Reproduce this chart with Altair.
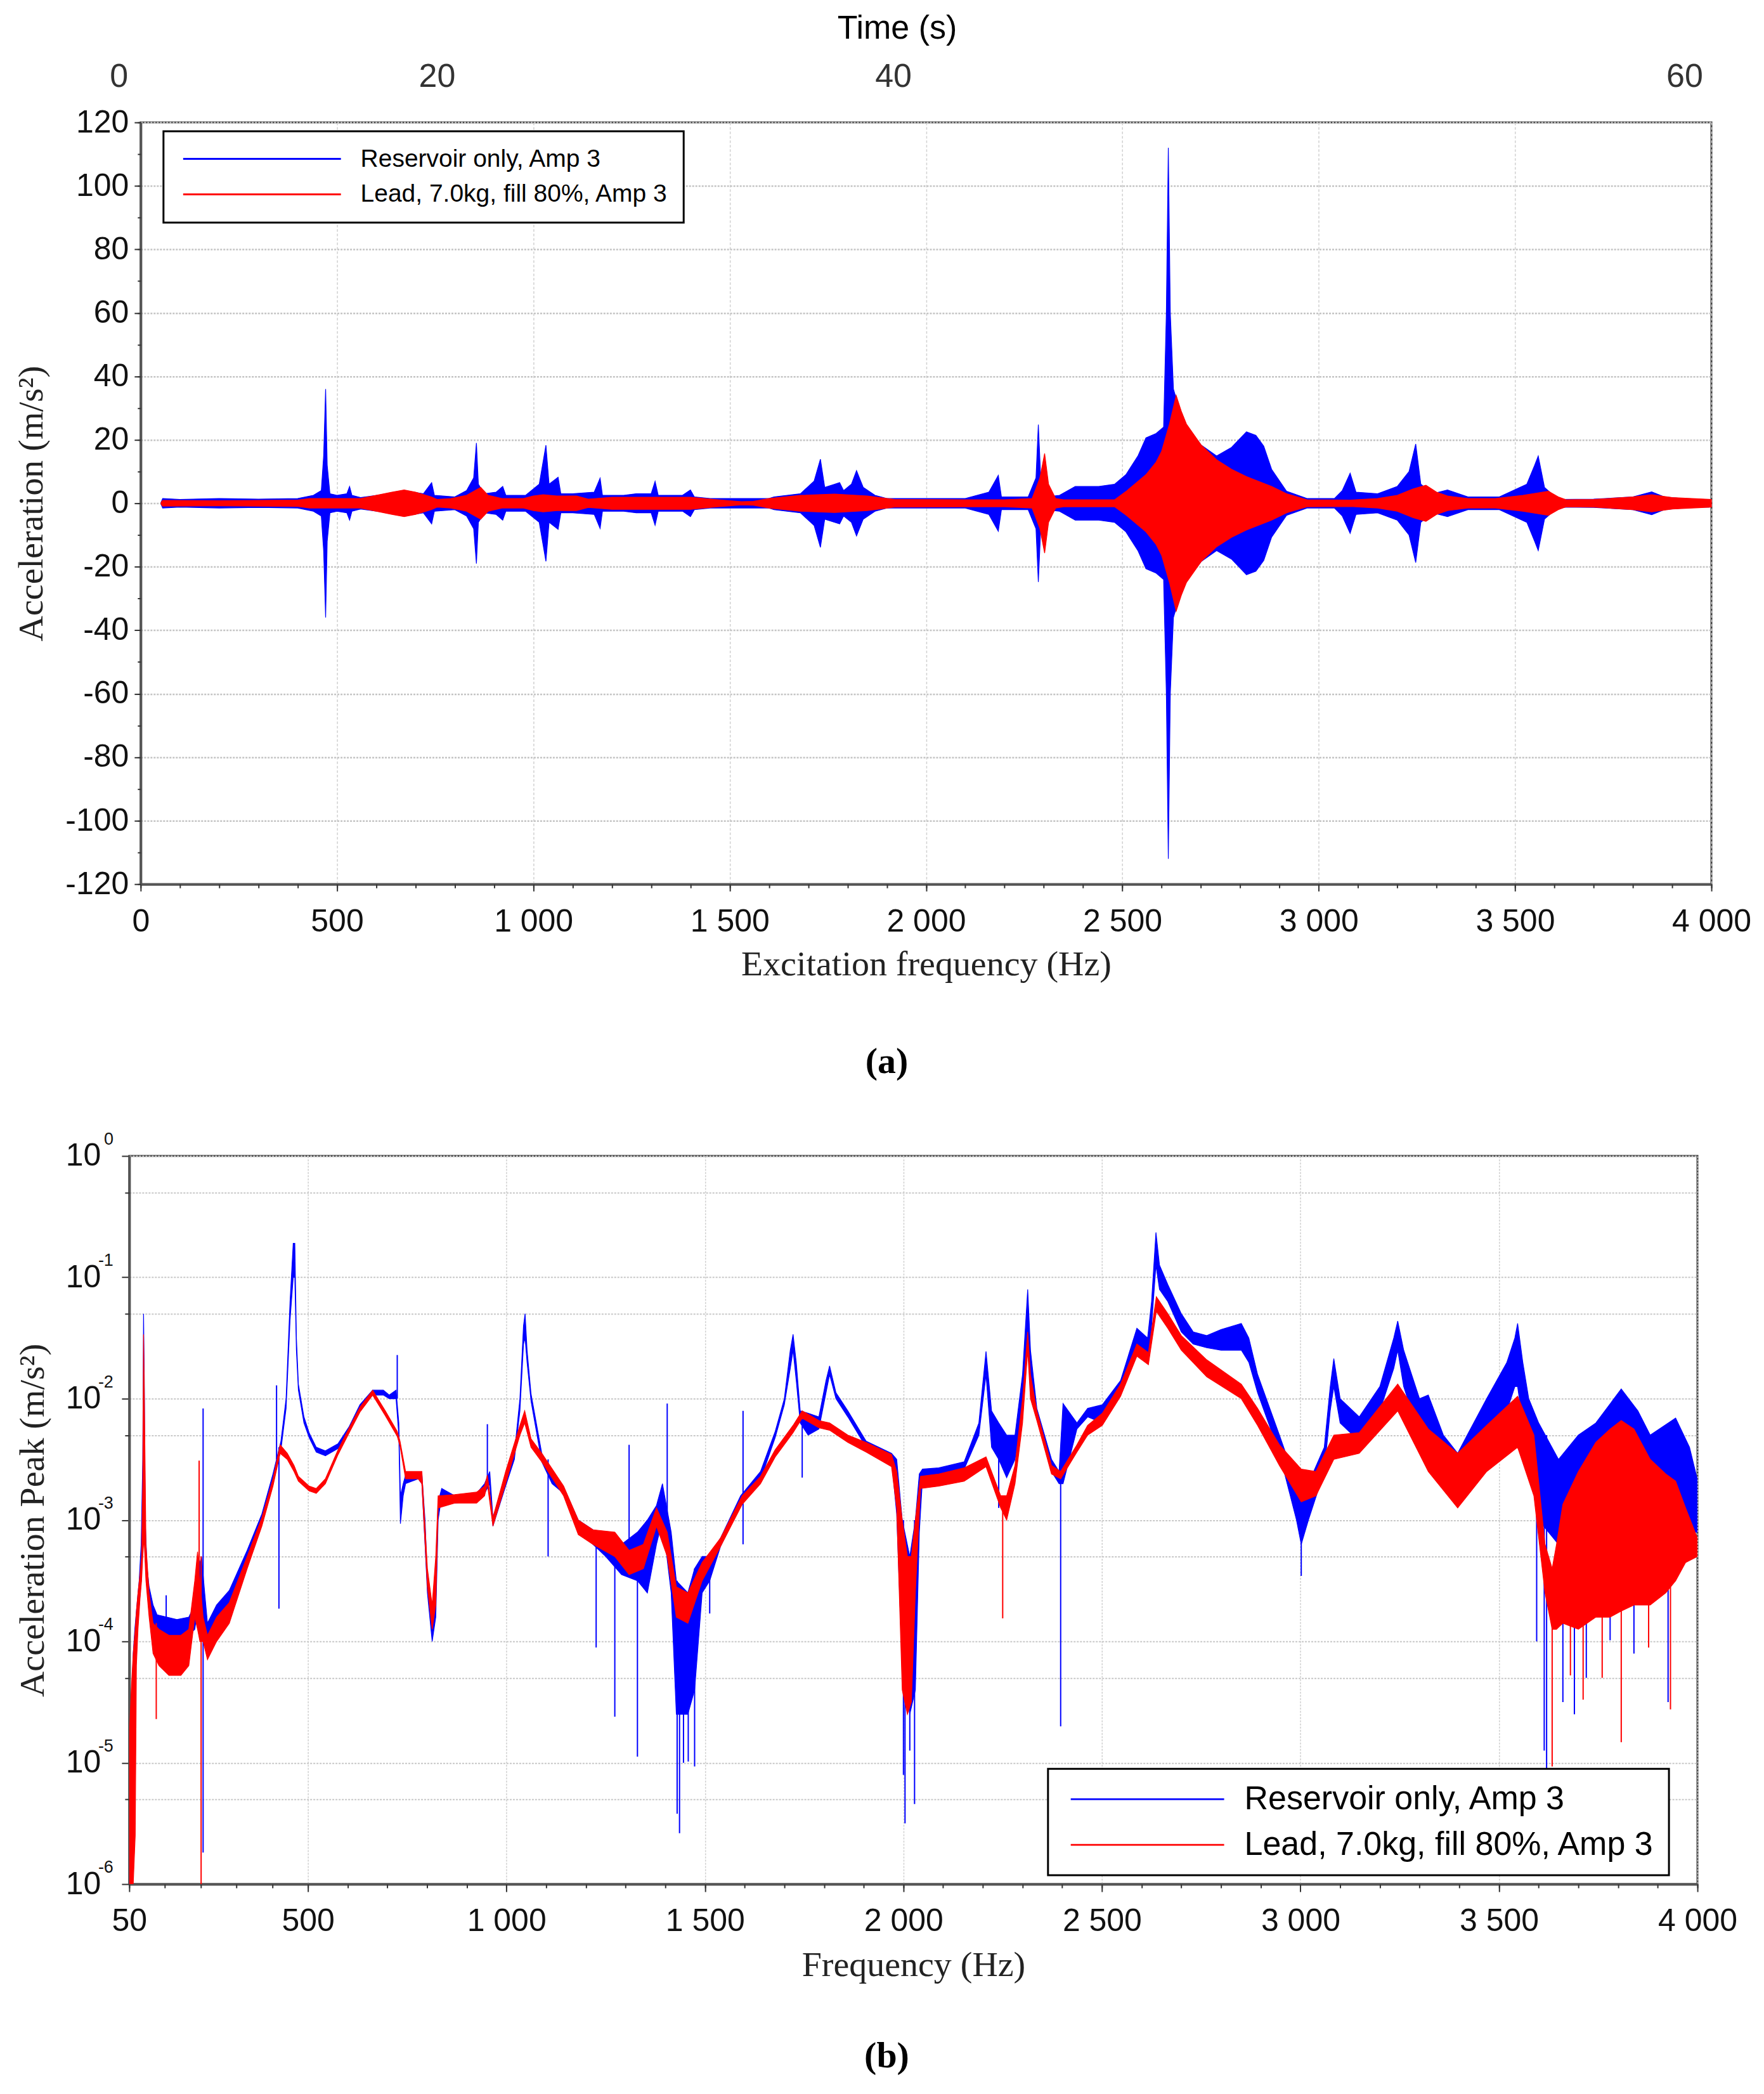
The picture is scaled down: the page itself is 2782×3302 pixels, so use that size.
import altair as alt
import pandas as pd

S_BLUE = "Reservoir only, Amp 3"
S_RED = "Lead, 7.0kg, fill 80%, Amp 3"
BLUE = "#0000ff"
RED = "#ff0000"
SANS = "Liberation Sans, Arial, sans-serif"
SERIF = "Liberation Serif, Times New Roman, serif"

# ---------------- Panel (a): envelope of the acceleration signal (m/s^2) ----------------
a_blue_freq = [52, 56, 100, 200, 300, 400, 440, 460, 466, 471, 475, 482, 500, 525, 532, 538, 560,
               620, 670, 720, 741, 748, 800, 830, 848, 855, 860, 875, 905, 922, 930, 980, 1015,
               1032, 1040, 1063, 1070, 1100, 1155, 1170, 1176, 1230, 1262, 1300, 1310, 1318,
               1380, 1400, 1410, 1450, 1600, 1613, 1680, 1715, 1731, 1742, 1780, 1790, 1810,
               1823, 1840, 1870, 1900, 2100, 2160, 2184, 2192, 2260, 2280, 2286, 2292, 2305,
               2340, 2380, 2440, 2480, 2509, 2540, 2560, 2586, 2605, 2612, 2617, 2622, 2630,
               2637, 2663, 2701, 2740, 2778, 2816, 2840, 2860, 2880, 2918, 2970, 3040, 3060,
               3080, 3095, 3150, 3200, 3230, 3247, 3260, 3290, 3328, 3380, 3460, 3530, 3550,
               3559, 3575, 3610, 3700, 3800, 3848, 3880, 3950, 3994]
a_blue_amp = [0.3, 1.5, 1.2, 1.5, 1.3, 1.5, 2.5, 4, 15, 36, 12, 3, 2.5, 3, 5.3, 2.5, 1.8,
              2.8, 4, 3, 6.5, 2.5, 2, 4, 8, 19, 6, 3, 3.5, 5.3, 2.5, 2.5, 6,
              18.3, 6, 8.2, 3, 3, 3.5, 7.9, 2.5, 2.5, 3, 3, 6.9, 2.5,
              2.5, 4.2, 2, 1.5, 1.5, 2, 3, 7, 13.9, 5, 6.5, 4, 6,
              10.3, 5, 2.5, 1.5, 1.5, 3.5, 8.8, 2, 2, 8, 24.8, 8, 2,
              2.5, 5.3, 5.3, 6, 9, 15, 20.6, 22, 24, 60, 112, 60, 36,
              33, 24.5, 18.3, 14.9, 17.6, 22.5, 21.4, 18, 10.7, 3.8, 1.5, 1.5, 4,
              9.5, 3.5, 3, 5.3, 10, 18.7, 6, 3, 4.2, 2, 2, 6, 12,
              14.9, 5, 1.2, 1.3, 2, 3.6, 2, 1.2, 1.2]
a_red_freq = [52, 56, 200, 400, 430, 560, 600, 640, 671, 700, 740, 755, 790, 830, 866, 885, 920,
              975, 1000, 1025, 1060, 1110, 1140, 1200, 1300, 1400, 1460, 1530, 1560, 1600,
              1680, 1767, 1850, 1920, 2100, 2200, 2270, 2290, 2302, 2312, 2330, 2350, 2480,
              2509, 2560, 2586, 2600, 2620, 2637, 2650, 2663, 2701, 2740, 2778, 2816, 2880,
              2918, 2970, 3080, 3150, 3200, 3240, 3273, 3300, 3328, 3380, 3450, 3520, 3585,
              3610, 3630, 3700, 3800, 3848, 3900, 4000]
a_red_amp = [0.3, 0.9, 0.8, 1.0, 1.5, 1.5, 2.5, 3.5, 4.2, 3.5, 2, 1.2, 1.5, 2.5, 5, 2.5, 1.5,
             1.5, 2.3, 2.7, 2.3, 2.3, 1.3, 1.9, 1.9, 1.9, 1.2, 0.5, 0.6, 1.5,
             2.5, 2.9, 2.3, 1.2, 1.1, 1.1, 1.5, 8, 15.7, 6, 1.5, 1.1, 1.1,
             3.7, 9, 13, 16.4, 25, 34, 29, 25, 18.3, 13.7, 10.7, 8.4, 5.3,
             3, 1.1, 1.0, 1.5, 2.5, 4.5, 5.7, 3.5, 2.3, 1.5, 1.5, 2.5, 3.8,
             2, 1.1, 1.2, 2, 2.7, 1.8, 1.2]

time_labels = ["0", "20", "40", "60"]
time_label_freq = [-55, 755, 1917, 3932]

a_xticks = list(range(0, 4001, 500))
a_xminor = list(range(0, 4001, 100))
a_yticks = list(range(-120, 121, 20))
a_yminor = list(range(-120, 121, 10))

# ---------------- Panel (b): acceleration peak, read as log10 of m/s^2 ----------------
# noisy band (upper / lower edge) of each curve
b_blue_freq = [50, 52, 56, 60, 64, 68, 75, 80, 84, 86, 88, 90, 95, 100, 110, 120, 170, 200, 215,
               224, 232, 240, 247, 270, 302, 347, 384, 412, 432, 445, 455, 463, 467, 471, 476, 490,
               503, 521, 544, 576, 604, 631, 663, 690, 705, 722, 729, 733, 740, 746, 778, 787, 795,
               801, 813, 822, 828, 837, 870, 925, 945, 958, 966, 998, 1020, 1034, 1043, 1047,
               1052, 1062, 1089, 1115, 1144, 1181, 1218, 1250, 1290, 1330, 1355, 1378, 1393, 1415,
               1428, 1457, 1474, 1493, 1512, 1539, 1590, 1640, 1677, 1700, 1715, 1722, 1730, 1740,
               1760, 1787, 1805, 1814, 1830, 1860, 1906, 1970, 1983, 1997, 2016, 2030, 2040, 2048,
               2089, 2153, 2190, 2208, 2222, 2240, 2260, 2281, 2300, 2313, 2320, 2336, 2373, 2392,
               2402, 2437, 2464, 2501, 2547, 2588, 2615, 2625, 2636, 2645, 2666, 2700, 2730, 2764,
               2800, 2851, 2870, 2892, 2947, 2990, 3002, 3020, 3060, 3075, 3084, 3100, 3148, 3200,
               3235, 3245, 3260, 3280, 3300, 3322, 3360, 3396, 3420, 3469, 3520, 3540, 3547, 3560,
               3575, 3600, 3650, 3700, 3744, 3808, 3850, 3881, 3945, 3980, 4000]
b_blue_hi_log = [-6.0, -5.2, -4.5, -4.1, -3.9, -3.75, -3.5, -3.2, -2.5, -1.30, -1.9, -3.0, -3.4,
                 -3.55, -3.7, -3.78, -3.82, -3.8, -3.7, -3.4, -3.3, -3.6, -3.85, -3.7, -3.58,
                 -3.25, -2.95, -2.62, -2.35, -2.0, -1.2, -0.72, -0.72, -1.5, -1.88, -2.15, -2.28,
                 -2.4, -2.43, -2.37, -2.23, -2.05, -1.93, -1.93, -1.97, -1.93, -2.2, -2.8, -2.7,
                 -2.63, -2.62, -2.62, -3.0, -3.5, -3.9, -3.6, -2.85, -2.74, -2.8, -2.78, -2.7,
                 -2.6, -2.98, -2.66, -2.45, -2.0, -1.4, -1.30, -1.6, -1.96, -2.45, -2.6, -2.73,
                 -3.0, -3.08, -3.15, -3.2, -3.1, -3.0, -2.88, -2.7, -3.1, -3.5, -3.6, -3.4, -3.3,
                 -3.3, -3.15, -2.8, -2.6, -2.27, -2.0, -1.6, -1.47, -1.7, -2.1, -2.12, -2.15,
                 -1.85, -1.73, -1.95, -2.1, -2.35, -2.45, -2.5, -3.0, -3.3, -3.0, -2.62, -2.58,
                 -2.57, -2.52, -2.2, -1.61, -2.1, -2.2, -2.3, -2.3, -1.8, -1.10, -1.6, -2.08,
                 -2.5, -2.6, -2.04, -2.2, -2.08, -2.05, -1.85, -1.42, -1.5, -1.2, -0.63, -0.9,
                 -1.06, -1.3, -1.45, -1.48, -1.43, -1.38, -1.5, -1.8, -2.3, -2.7, -2.78, -2.7,
                 -2.4, -1.9, -1.67, -2.0, -2.15, -1.9, -1.5, -1.36, -1.6, -1.8, -2.0, -1.97, -2.3,
                 -2.45, -2.3, -2.0, -1.7, -1.5, -1.38, -1.7, -2.0, -2.2, -2.5, -2.3, -2.2, -1.92,
                 -2.1, -2.3, -2.16, -2.4, -2.67]
b_blue_lo_log = [-6.0, -6.0, -6.0, -5.5, -4.5, -3.95, -3.7, -3.5, -3.2, -3.1, -3.0, -3.3, -3.55,
                 -3.7, -3.85, -3.92, -3.97, -3.95, -3.9, -3.7, -3.9, -4.0, -3.95, -3.82, -3.68,
                 -3.32, -3.0, -2.68, -2.42, -2.08, -1.35, -1.0, -1.0, -1.6, -1.93, -2.2, -2.32,
                 -2.44, -2.47, -2.41, -2.27, -2.09, -1.97, -1.97, -2.0, -2.0, -2.3, -3.03, -2.8,
                 -2.7, -2.66, -2.70, -3.2, -3.6, -4.0, -3.8, -3.0, -2.8, -2.86, -2.84, -2.78,
                 -2.7, -3.05, -2.72, -2.5, -2.1, -1.55, -1.5, -1.7, -2.02, -2.52, -2.7, -2.78,
                 -3.1, -3.2, -3.3, -3.45, -3.5, -3.6, -3.2, -3.0, -3.6, -4.6, -4.6, -4.4, -3.6,
                 -3.5, -3.22, -2.87, -2.67, -2.32, -2.05, -1.75, -1.6, -1.85, -2.2, -2.3, -2.25,
                 -1.95, -1.8, -2.0, -2.15, -2.4, -2.5, -2.95, -4.2, -4.6, -4.4, -3.1, -2.66,
                 -2.63, -2.58, -2.3, -1.8, -2.4, -2.5, -2.65, -2.5, -2.1, -1.4, -1.8, -2.15,
                 -2.6, -2.7, -2.7, -2.25, -2.15, -2.2, -1.95, -1.6, -1.7, -1.4, -0.9, -1.1, -1.2,
                 -1.45, -1.55, -1.58, -1.6, -1.6, -1.7, -1.95, -2.45, -3.0, -3.2, -3.0, -2.6,
                 -2.1, -1.9, -2.2, -2.35, -2.1, -1.75, -1.6, -1.9, -2.1, -2.3, -2.3, -2.6, -2.8,
                 -2.7, -2.4, -2.1, -1.9, -1.9, -2.2, -2.5, -3.0, -3.2, -3.0, -3.0, -3.0, -3.0,
                 -3.0, -3.0, -3.1, -3.1]
# narrow spikes of each curve: frequency, top and bottom of the spike
b_blue_spike_freq = [143, 236, 421, 427, 725, 952, 1105, 1226, 1273, 1309, 1330, 1405, 1430,
                     1436, 1446, 1458, 1474, 1512, 1596, 1745, 2000, 2004, 2016, 2028, 2240, 2396,
                     3002, 3595, 3614, 3620, 3661, 3690, 3720, 3780, 3840, 3926]
b_blue_spike_top_log = [-3.62, -2.08, -1.89, -2.4, -1.64, -2.21, -2.5, -3.1, -3.15, -2.38, -3.1,
                        -2.04, -3.5, -3.55, -3.6, -3.6, -3.4, -3.3, -2.10, -2.1, -3.0, -3.3, -3.3,
                        -3.0, -2.2, -2.6, -2.78, -2.2, -2.3, -2.3, -2.5, -2.4, -2.3, -2.05, -2.1,
                        -2.3]
b_blue_spike_bot_log = [-3.9, -5.74, -2.5, -3.73, -2.0, -2.7, -3.3, -4.05, -4.62, -3.3, -4.95,
                        -3.3, -5.42, -5.58, -5.0, -4.99, -5.03, -3.77, -3.2, -2.65, -5.1, -5.50,
                        -4.9, -5.34, -2.9, -4.70, -3.46, -4.0, -4.9, -5.5, -4.5, -4.6, -4.3, -3.99,
                        -4.1, -4.5]

b_red_freq = [50, 55, 60, 65, 68, 72, 77, 81, 84, 86, 88, 92, 100, 110, 125, 150, 180, 200, 215,
              222, 228, 236, 247, 270, 302, 347, 384, 412, 430, 448, 465, 476, 503, 521, 544, 576,
              604, 631, 663, 695, 725, 732, 746, 778, 787, 801, 813, 822, 828, 870, 925, 945, 952,
              966, 998, 1034, 1046, 1062, 1089, 1144, 1181, 1218, 1273, 1309, 1345, 1378, 1405,
              1428, 1457, 1493, 1539, 1594, 1640, 1677, 1722, 1745, 1787, 1814, 1860, 1906, 1970,
              1983, 1997, 2010, 2020, 2030, 2043, 2089, 2153, 2208, 2245, 2260, 2281, 2300, 2313,
              2320, 2336, 2373, 2396, 2437, 2464, 2501, 2547, 2588, 2617, 2637, 2666, 2700, 2764,
              2851, 2892, 2947, 3002, 3039, 3084, 3148, 3245, 3322, 3396, 3469, 3547, 3588, 3616,
              3634, 3645, 3661, 3700, 3744, 3780, 3808, 3840, 3881, 3920, 3945, 3970, 4000]
b_red_hi_log = [-4.8, -4.4, -4.1, -3.9, -3.75, -3.6, -3.45, -3.3, -2.7, -1.47, -2.0, -3.2, -3.6,
                -3.85, -3.9, -3.95, -3.95, -3.9, -3.5, -3.26, -3.5, -3.8, -3.95, -3.8, -3.68,
                -3.3, -2.98, -2.66, -2.38, -2.45, -2.55, -2.64, -2.72, -2.74, -2.66, -2.42, -2.24,
                -2.07, -1.93, -2.1, -2.27, -2.35, -2.6, -2.6, -2.6, -3.4, -3.7, -3.3, -2.8,
                -2.79, -2.77, -2.72, -2.63, -2.98, -2.6, -2.22, -2.1, -2.33, -2.45, -2.72, -3.0,
                -3.08, -3.1, -3.25, -3.2, -2.9, -3.1, -3.55, -3.6, -3.35, -3.15, -2.8, -2.64,
                -2.42, -2.22, -2.1, -2.18, -2.2, -2.3, -2.36, -2.46, -2.6, -3.0, -3.3, -3.3,
                -3.0, -2.64, -2.62, -2.57, -2.48, -2.8, -2.8, -2.55, -2.0, -1.45, -1.8, -2.1,
                -2.55, -2.6, -2.38, -2.22, -2.12, -1.88, -1.55, -1.62, -1.16, -1.3, -1.48, -1.68,
                -1.88, -2.08, -2.38, -2.58, -2.6, -2.3, -2.28, -1.88, -2.25, -2.45, -2.22, -1.98,
                -2.3, -3.2, -3.4, -3.2, -2.87, -2.6, -2.36, -2.25, -2.18, -2.25, -2.5, -2.62,
                -2.68, -2.9, -3.15]
b_red_lo_log = [-6.0, -6.0, -6.0, -5.6, -4.2, -3.9, -3.65, -3.5, -3.3, -3.2, -3.2, -3.5, -3.8,
                -4.1, -4.2, -4.28, -4.28, -4.2, -3.8, -3.9, -4.0, -4.0, -4.15, -4.0, -3.85, -3.4,
                -3.05, -2.72, -2.45, -2.5, -2.6, -2.68, -2.76, -2.78, -2.7, -2.46, -2.28, -2.11,
                -1.97, -2.14, -2.31, -2.39, -2.66, -2.66, -2.7, -3.55, -3.9, -3.7, -2.9, -2.86,
                -2.86, -2.8, -2.7, -3.05, -2.7, -2.3, -2.2, -2.4, -2.52, -2.8, -3.12, -3.2, -3.3,
                -3.45, -3.4, -3.05, -3.3, -3.8, -3.85, -3.5, -3.22, -2.87, -2.7, -2.48, -2.28,
                -2.16, -2.24, -2.26, -2.36, -2.44, -2.56, -2.9, -4.4, -4.6, -4.5, -3.6, -2.74,
                -2.72, -2.68, -2.56, -2.9, -3.0, -2.7, -2.2, -1.6, -2.0, -2.18, -2.62, -2.66,
                -2.44, -2.3, -2.22, -1.98, -1.65, -1.72, -1.28, -1.42, -1.6, -1.82, -2.0, -2.22,
                -2.55, -2.85, -2.8, -2.5, -2.45, -2.1, -2.6, -2.9, -2.6, -2.4, -2.8, -3.6, -3.9,
                -3.9, -3.85, -3.9, -3.8, -3.8, -3.75, -3.7, -3.7, -3.6, -3.5, -3.35, -3.3]
b_red_spike_freq = [118, 226, 231, 2250, 3634, 3680, 3712, 3760, 3808, 3877, 3932]
b_red_spike_top_log = [-3.85, -2.51, -3.3, -2.85, -3.4, -3.5, -3.5, -3.6, -3.5, -3.5, -3.4]
b_red_spike_bot_log = [-4.64, -3.9, -6.0, -3.81, -5.03, -4.28, -4.48, -4.3, -4.83, -4.05, -4.56]

b_xticks = [50, 500, 1000, 1500, 2000, 2500, 3000, 3500, 4000]
b_xminor = [50, 140, 230, 320, 410, 500] + list(range(600, 4001, 100))
b_yticks = [1e-6, 1e-5, 1e-4, 1e-3, 1e-2, 1e-1, 1.0]
b_yexp = ["-6", "-5", "-4", "-3", "-2", "-1", "0"]
b_yminor = [5e-6, 5e-5, 5e-4, 5e-3, 5e-2, 5e-1]


def unlog(values):
    return [10 ** v for v in values]


# ---------------- data frames ----------------
df_a_blue = pd.DataFrame({"freq": a_blue_freq, "amp": a_blue_amp, "series": S_BLUE})
df_a_red = pd.DataFrame({"freq": a_red_freq, "amp": a_red_amp, "series": S_RED})
df_b_blue = pd.DataFrame({"freq": b_blue_freq, "hi": unlog(b_blue_hi_log),
                          "lo": unlog(b_blue_lo_log), "series": S_BLUE})
df_b_red = pd.DataFrame({"freq": b_red_freq, "hi": unlog(b_red_hi_log),
                         "lo": unlog(b_red_lo_log), "series": S_RED})
df_b_blue_sp = pd.DataFrame({"freq": b_blue_spike_freq, "hi": unlog(b_blue_spike_top_log),
                             "lo": unlog(b_blue_spike_bot_log)})
df_b_red_sp = pd.DataFrame({"freq": b_red_spike_freq, "hi": unlog(b_red_spike_top_log),
                            "lo": unlog(b_red_spike_bot_log)})

LEG_SYM = "M-1,-0.12H19V0.12H-1Z"


def legend(x, y, font_size, sym_size, label_offset, pad, row_pad):
    return alt.Legend(title=None, orient="none", legendX=x, legendY=y, padding=pad,
                      rowPadding=row_pad, symbolType=LEG_SYM, symbolSize=sym_size,
                      symbolStrokeWidth=0, labelOffset=label_offset, labelFontSize=font_size,
                      labelFont=SANS, labelColor="#000", labelLimit=3000,
                      fillColor="#ffffff", strokeColor="#000000")


thousands = "replace(format(datum.value, ','), ',', ' ')"
hyphen_minus = "datum.value < 0 ? '-' + abs(datum.value) : '' + datum.value"

# ---------------- top chart ----------------
xa = alt.Scale(domain=[0, 4000], nice=False, zero=False)
ya = alt.Scale(domain=[-120, 120], nice=False, zero=False)
# legend position is relative to the row that holds the panel (panel origin at x = 213)
color_a = alt.Color("series:N", scale=alt.Scale(domain=[S_BLUE, S_RED], range=[BLUE, RED]),
                    legend=legend(249, 14, 39, 620, 248, 24, 16))

blue_a = alt.Chart(df_a_blue).transform_calculate(neg="-datum.amp").mark_area(
    stroke=BLUE, strokeWidth=1.2).encode(
    x=alt.X("freq:Q", scale=xa, axis=alt.Axis(
        values=a_xticks, title="Excitation frequency (Hz)", labelExpr=thousands,
        tickSize=11, labelPadding=23, grid=True, gridColor="#d0d0d0", gridWidth=1.5,
        gridDash=[4, 3], titleY=126, titleBaseline="middle", orient="bottom")),
    y=alt.Y("amp:Q", scale=ya, axis=alt.Axis(
        values=a_yticks, title="Acceleration (m/s²)", labelExpr=hyphen_minus, tickSize=10,
        labelPadding=9, grid=True, gridColor="#c4c4c4", gridWidth=2.5, gridDash=[3, 2],
        titleX=-172, titleBaseline="middle", orient="left")),
    y2="neg:Q",
    color=color_a,
)
red_a = alt.Chart(df_a_red).transform_calculate(neg="-datum.amp").mark_area(
    stroke=RED, strokeWidth=1.2).encode(
    x=alt.X("freq:Q", scale=xa, axis=None),
    y=alt.Y("amp:Q", scale=ya, axis=None),
    y2="neg:Q",
    color=color_a,
)
minor_a = alt.Chart(pd.DataFrame({"freq": [0], "amp": [0]})).mark_point(opacity=0).encode(
    x=alt.X("freq:Q", scale=xa, axis=alt.Axis(values=a_xminor, labels=False, tickSize=6,
                                              grid=False, domain=False, title=None,
                                              orient="bottom")),
    y=alt.Y("amp:Q", scale=ya, axis=alt.Axis(values=a_yminor, labels=False, tickSize=5,
                                             grid=False, domain=False, title=None,
                                             orient="left")),
)
time_a = alt.Chart(pd.DataFrame({"freq": time_label_freq, "label": time_labels})).mark_text(
    font=SANS, fontSize=52, color="#333333", baseline="middle").encode(
    x=alt.X("freq:Q", scale=xa, axis=None),
    y=alt.value(-72),
    text="label:N",
)
time_title = alt.Chart(pd.DataFrame({"t": ["Time (s)"]})).mark_text(
    font=SANS, fontSize=52, color="#000000", baseline="middle").encode(
    x=alt.value(1194), y=alt.value(-148), text="t:N")

top = alt.layer(blue_a, red_a, minor_a, time_a, time_title).resolve_axis(
    x="independent", y="independent").properties(
    width=2479, height=1202,
    title=alt.TitleParams("(a)", orient="bottom", anchor="middle", dx=-62, offset=98,
                          font=SERIF, fontSize=58, fontWeight="bold", color="#000"))

# ---------------- bottom chart ----------------
xb = alt.Scale(domain=[50, 4000], nice=False, zero=False)
yb = alt.Scale(type="log", domain=[1e-6, 1], nice=False)
# legend position is relative to the row that holds the panel (panel origin at x = 195)
color_b = alt.Color("series:N", scale=alt.Scale(domain=[S_BLUE, S_RED], range=[BLUE, RED]),
                    legend=legend(1645, 967, 52, 586, 236, 22, 20))

blue_b = alt.Chart(df_b_blue).mark_area(stroke=BLUE, strokeWidth=1.2, clip=True).encode(
    x=alt.X("freq:Q", scale=xb, axis=alt.Axis(
        values=b_xticks, title="Frequency (Hz)", labelExpr=thousands, tickSize=12,
        labelPadding=22, grid=True, gridColor="#cfcfcf", gridWidth=1.5, gridDash=[3, 2],
        titleY=128, titleBaseline="middle", orient="bottom")),
    y=alt.Y("hi:Q", scale=yb, axis=alt.Axis(
        values=b_yticks, labelExpr="'10'", title="Acceleration Peak (m/s²)", tickSize=12,
        labelPadding=33, grid=True, gridColor="#c8c8c8", gridWidth=2, gridDash=[3, 2],
        titleX=-152, titleBaseline="middle", orient="left")),
    y2="lo:Q",
    color=color_b,
)
blue_b_sp = alt.Chart(df_b_blue_sp).mark_rule(color=BLUE, strokeWidth=2, clip=True).encode(
    x=alt.X("freq:Q", scale=xb, axis=None),
    y=alt.Y("hi:Q", scale=yb, axis=None),
    y2="lo:Q",
)
red_b = alt.Chart(df_b_red).mark_area(stroke=RED, strokeWidth=1.2, clip=True).encode(
    x=alt.X("freq:Q", scale=xb, axis=None),
    y=alt.Y("hi:Q", scale=yb, axis=None),
    y2="lo:Q",
    color=color_b,
)
red_b_sp = alt.Chart(df_b_red_sp).mark_rule(color=RED, strokeWidth=2, clip=True).encode(
    x=alt.X("freq:Q", scale=xb, axis=None),
    y=alt.Y("hi:Q", scale=yb, axis=None),
    y2="lo:Q",
)
minor_b = alt.Chart(pd.DataFrame({"freq": [50], "hi": [1e-3]})).mark_point(opacity=0).encode(
    x=alt.X("freq:Q", scale=xb, axis=alt.Axis(values=b_xminor, labels=False, tickSize=6,
                                              grid=False, domain=False, title=None,
                                              orient="bottom")),
    y=alt.Y("hi:Q", scale=yb, axis=alt.Axis(values=b_yminor, labels=False, tickSize=7,
                                            grid=True, gridColor="#c8c8c8", gridWidth=2,
                                            gridDash=[3, 2], domain=False, title=None,
                                            orient="left")),
)
exp_b = alt.Chart(pd.DataFrame({"hi": b_yticks, "e": b_yexp})).mark_text(
    font=SANS, fontSize=27, color="#111111", align="right", baseline="middle", dy=-26).encode(
    x=alt.value(-25),
    y=alt.Y("hi:Q", scale=yb, axis=None),
    text="e:N",
)

bottom = alt.layer(blue_b, blue_b_sp, red_b, red_b_sp, minor_b, exp_b).resolve_axis(
    x="independent", y="independent").properties(
    width=2475, height=1149,
    title=alt.TitleParams("(b)", orient="bottom", anchor="middle", dx=-42, offset=87,
                          font=SERIF, fontSize=58, fontWeight="bold", color="#000"))


def spacer():
    # empty 1x1 view, only used to shift a panel horizontally
    return alt.Chart(pd.DataFrame({"t": [""]})).mark_text(opacity=0).encode(
        text="t:N").properties(width=1, height=1,
                               view=alt.ViewBackground(stroke="transparent"))


top_row = alt.hconcat(spacer(), top, spacing=9)
bottom_row = alt.hconcat(spacer(), bottom, spacing=11)

chart = alt.vconcat(top_row, bottom_row, spacing=75).resolve_scale(
    color="independent").properties(
    padding={"left": 0, "top": 8, "right": 10, "bottom": 10}
).configure_view(
    stroke="#444444", strokeWidth=3
).configure_axis(
    labelFont=SANS, labelFontSize=50, labelColor="#111111", labelFontWeight="normal",
    labelFlush=False,
    titleFont=SERIF, titleFontSize=56, titleFontWeight="normal", titleColor="#222222",
    domainColor="#555555", domainWidth=4, tickColor="#333333", tickWidth=2,
).configure_legend(strokeWidth=3)

chart.save("out.html", embed_options={"renderer": "svg", "actions": False})
